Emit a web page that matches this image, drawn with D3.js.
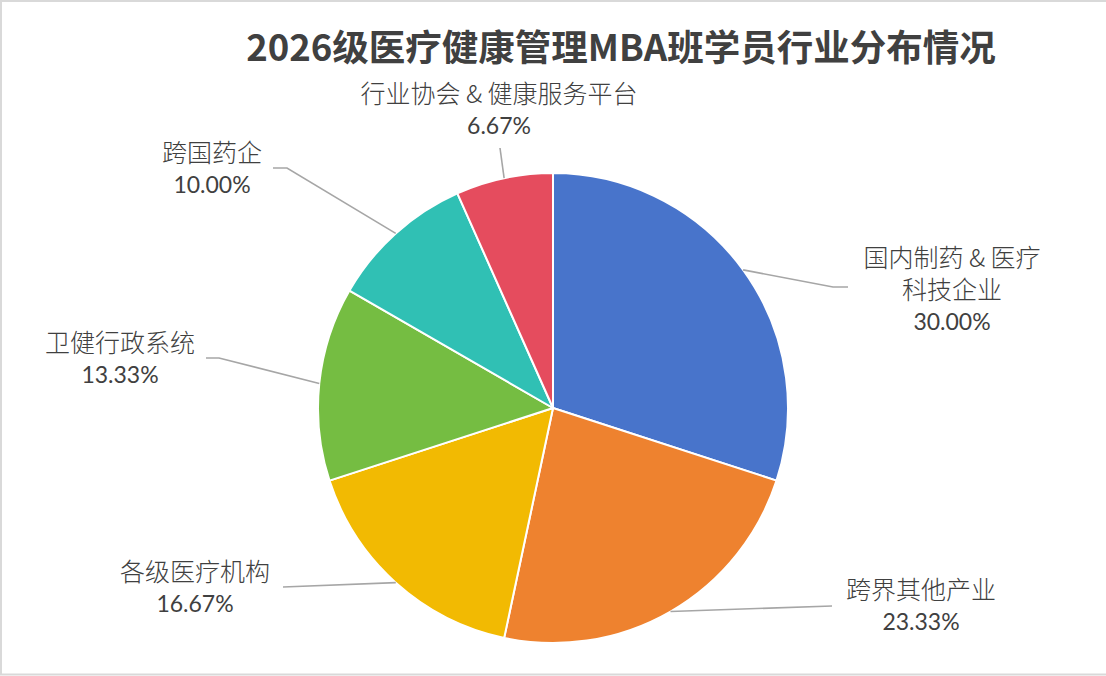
<!DOCTYPE html>
<html>
<head>
<meta charset="utf-8">
<script src="https://cdn.jsdelivr.net/npm/d3@7/dist/d3.min.js"></script>
<style>
    html, body { margin: 0; padding: 0; background: #fff; }
    #chart { width: 1106px; height: 676px; overflow: hidden; }
</style>
</head>
<body>
<div id="chart"></div>
<script>
// chart data
const categories = ["国内制药 & 医疗科技企业", "跨界其他产业", "各级医疗机构", "卫健行政系统", "跨国药企", "行业协会 & 健康服务平台"];
const labelLines = [["国内制药 & 医疗", "科技企业"], ["跨界其他产业"], ["各级医疗机构"], ["卫健行政系统"], ["跨国药企"], ["行业协会 & 健康服务平台"]];
const shares = [30.00, 23.33, 16.67, 13.33, 10.00, 6.67];
const colors = ["#4874CB", "#EE822F", "#F2BA02", "#75BD42", "#30C0B4", "#E54C5E"];

// where each label sits, relative to the pie centre (hand placed like the original)
const labelLayout = [
    {tx: 399, ty: -150, bend: [280, -121], end: [295, -121]},
    {tx: 368, ty: 182, bend: [279, 198], end: [279, 198]},
    {tx: -358, ty: 164, bend: [-270, 179], end: [-270, 179]},
    {tx: -433, ty: -65, bend: [-334, -50], end: [-347, -50]},
    {tx: -341, ty: -255, bend: [-266, -240], end: [-280, -240]},
    {tx: -54, ty: -314, bend: [-53, -260], end: [-53, -260]}
];

const width = 1106, height = 676;
const cx = 553, cy = 408, radius = 235;

function start() {
    const svg = d3.select("#chart")
        .append("svg")
        .attr("width", width)
        .attr("height", height)
        .style("display", "block");

    // chart area border
    svg.append("rect")
        .attr("x", 1).attr("y", 1)
        .attr("width", width + 10).attr("height", height - 2.5)
        .attr("fill", "#fff")
        .attr("stroke", "#D9D9D9")
        .attr("stroke-width", 2);

    svg.append("text")
        .attr("x", 621)
        .attr("y", 48)
        .attr("dy", "0.35em")
        .attr("text-anchor", "middle")
        .style("font-family", "'Noto Sans CJK SC', sans-serif")
        .style("font-weight", "bold")
        .style("font-size", "36.5px")
        .style("fill", "#404040")
        .text("2026级医疗健康管理MBA班学员行业分布情况");

    const pie = d3.pie().sort(null).value(d => d)(shares);
    const arc = d3.arc().innerRadius(0).outerRadius(radius);

    const g = svg.append("g").attr("transform", `translate(${cx},${cy})`);

    g.selectAll("path.slice")
        .data(pie)
        .enter().append("path")
        .attr("class", "slice")
        .attr("d", arc)
        .attr("fill", (d, i) => colors[i])
        .attr("stroke", "#fff")
        .attr("stroke-width", 2)
        .attr("stroke-linejoin", "round");

    // leader lines from the middle of each slice's rim
    g.selectAll("polyline.leader")
        .data(pie)
        .enter().append("polyline")
        .attr("class", "leader")
        .attr("points", (d, i) => {
            const a = (d.startAngle + d.endAngle) / 2;
            const p0 = [radius * Math.sin(a), -radius * Math.cos(a)];
            const lay = labelLayout[i];
            return [p0, lay.bend, lay.end].map(p => p.join(",")).join(" ");
        })
        .attr("fill", "none")
        .attr("stroke", "#A6A6A6")
        .attr("stroke-width", 1.6);

    const labels = g.selectAll("text.label")
        .data(pie)
        .enter().append("text")
        .attr("class", "label")
        .attr("text-anchor", "middle")
        .style("fill", "#404040");

    labels.each(function (d, i) {
        const t = d3.select(this);
        const lay = labelLayout[i];
        const lines = labelLines[i];
        lines.forEach((line, k) => {
            t.append("tspan")
                .attr("x", lay.tx)
                .attr("y", lay.ty + k * 32)
                .attr("dy", "0.35em")
                .style("font-family", "'Noto Sans CJK SC', sans-serif")
                .style("font-weight", 300)
                .style("font-size", "25px")
                .text(line);
        });
        t.append("tspan")
            .attr("x", lay.tx)
            .attr("y", lay.ty + lines.length * 32)
            .attr("dy", "0.35em")
            .style("font-family", "Lato, 'Open Sans', sans-serif")
            .style("font-size", "23px")
            .text(shares[i].toFixed(2) + "%");
    });
}

document.addEventListener("DOMContentLoaded", function () {
    start();
});
</script>
</body>
</html>
